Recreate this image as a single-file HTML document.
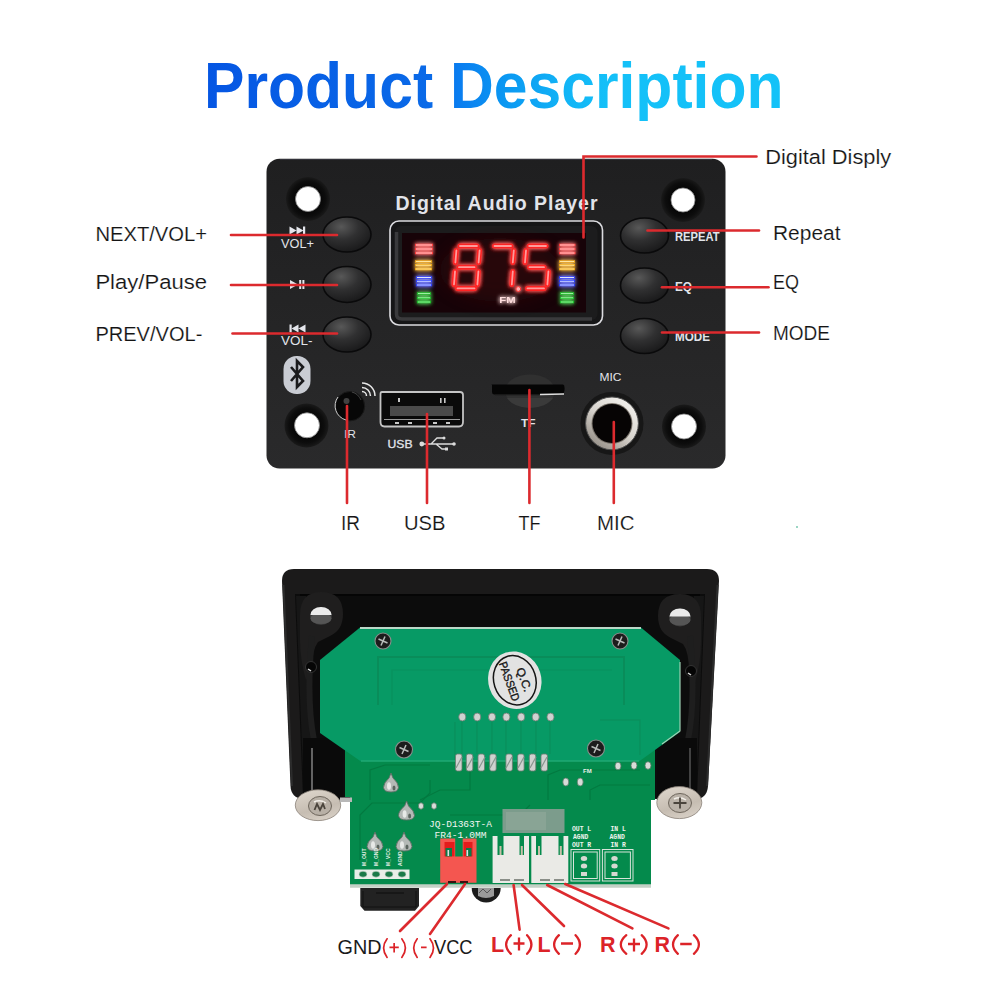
<!DOCTYPE html>
<html><head><meta charset="utf-8">
<style>
html,body{margin:0;padding:0;background:#fff;width:1000px;height:1000px;overflow:hidden}
svg{display:block}
svg{font-family:"Liberation Sans",sans-serif}
</style></head>
<body>
<svg width="1000" height="1000" viewBox="0 0 1000 1000">
<defs>
  <linearGradient id="tg" x1="208" y1="0" x2="780" y2="0" gradientUnits="userSpaceOnUse">
    <stop offset="0" stop-color="#0556e3"/>
    <stop offset="0.388" stop-color="#0a6ae8"/>
    <stop offset="0.44" stop-color="#0a7ef0"/>
    <stop offset="0.52" stop-color="#0b98f2"/>
    <stop offset="0.624" stop-color="#12b4f6"/>
    <stop offset="0.70" stop-color="#14c0f8"/>
    <stop offset="1" stop-color="#14c2f8"/>
  </linearGradient>
  <radialGradient id="btn" cx="0.38" cy="0.28" r="0.8">
    <stop offset="0" stop-color="#585858"/>
    <stop offset="0.45" stop-color="#303031"/>
    <stop offset="1" stop-color="#161617"/>
  </radialGradient>
  <filter id="glow" x="-30%" y="-30%" width="160%" height="160%">
    <feGaussianBlur in="SourceGraphic" stdDeviation="2.2" result="b"/>
    <feMerge><feMergeNode in="b"/><feMergeNode in="b"/><feMergeNode in="SourceGraphic"/></feMerge>
  </filter>
  <filter id="soft" x="-50%" y="-50%" width="200%" height="200%"><feGaussianBlur stdDeviation="8"/></filter>
  <linearGradient id="panelg" x1="0" y1="0" x2="0" y2="1">
    <stop offset="0" stop-color="#1f1f20"/><stop offset="1" stop-color="#2a2a2b"/>
  </linearGradient>
  <radialGradient id="ring" cx="0.5" cy="0.5" r="0.5">
    <stop offset="0.5" stop-color="#050505"/><stop offset="0.8" stop-color="#0d0d0d"/><stop offset="1" stop-color="#1a1a1a"/>
  </radialGradient>
  <linearGradient id="silver" x1="0.8" y1="0.1" x2="0.2" y2="0.9">
    <stop offset="0" stop-color="#f0eeea"/><stop offset="0.5" stop-color="#d8d4ce"/><stop offset="1" stop-color="#9a948c"/>
  </linearGradient>
  <linearGradient id="wash" x1="0.3" y1="0" x2="0.7" y2="1">
    <stop offset="0" stop-color="#dcd4ca"/><stop offset="0.6" stop-color="#c6bdb2"/><stop offset="1" stop-color="#d8d0c6"/>
  </linearGradient>
</defs>

<!-- title -->
<text id="title" x="204" y="108" font-size="64" font-weight="bold" fill="url(#tg)" textLength="579.5" lengthAdjust="spacingAndGlyphs">Product Description</text>

<!-- ===== FRONT PANEL ===== -->
<rect x="266.5" y="158.8" width="459" height="309.7" rx="13" fill="url(#panelg)"/>
<path d="M280 159.5 H712" stroke="#3a3a44" stroke-width="1" opacity="0.7"/>

<!-- holes -->
<g>
  <circle cx="308" cy="199" r="22" fill="url(#ring)"/><circle cx="308" cy="199" r="12.5" fill="#fff" stroke="#888" stroke-width="0.8"/>
  <circle cx="683" cy="200" r="22" fill="url(#ring)"/><circle cx="683" cy="200" r="12" fill="#fff" stroke="#888" stroke-width="0.8"/>
  <circle cx="306.5" cy="425.5" r="22" fill="url(#ring)"/><circle cx="307" cy="425.3" r="12.5" fill="#fff" stroke="#888" stroke-width="0.8"/>
  <circle cx="684" cy="426.5" r="22" fill="url(#ring)"/><circle cx="684" cy="426.5" r="12.5" fill="#fff" stroke="#888" stroke-width="0.8"/>
</g>

<!-- buttons -->
<g stroke="#0a0a0b" stroke-width="1.6">
  <ellipse cx="347" cy="234.5" rx="24" ry="17.5" fill="url(#btn)"/>
  <ellipse cx="347" cy="284.5" rx="24" ry="18" fill="url(#btn)"/>
  <ellipse cx="347" cy="334.5" rx="24" ry="17.5" fill="url(#btn)"/>
  <ellipse cx="644.5" cy="235.5" rx="24" ry="17.5" fill="url(#btn)"/>
  <ellipse cx="644.5" cy="285.5" rx="24" ry="17.5" fill="url(#btn)"/>
  <ellipse cx="644.5" cy="336" rx="24" ry="17.5" fill="url(#btn)"/>
</g>

<!-- button icons -->
<g fill="#e4e6ec">
  <path d="M289.5 226.5 L296.5 230.5 L289.5 234.5 Z M296.5 226.5 L303.5 230.5 L296.5 234.5 Z"/><rect x="303" y="226.5" width="2.2" height="8"/>
  <path d="M290 280 L298 284.5 L290 289 Z"/><rect x="299.2" y="280" width="2" height="9"/><rect x="302.4" y="280" width="2" height="9"/>
  <path d="M305.5 324.5 L298.5 328.5 L305.5 332.5 Z M298.5 324.5 L291.5 328.5 L298.5 332.5 Z"/><rect x="289.5" y="324.5" width="2.2" height="8"/>
</g>

<!-- panel text -->
<text x="395.5" y="209.5" font-size="19.5" font-weight="bold" fill="#e2e4ea" textLength="202" lengthAdjust="spacing">Digital Audio Player</text>
<g fill="#e2e4ea" font-weight="bold" font-size="12">
  <text x="675" y="241" textLength="44.5" lengthAdjust="spacingAndGlyphs">REPEAT</text>
  <text x="675" y="291" textLength="17" lengthAdjust="spacingAndGlyphs">EQ</text>
  <text x="675" y="341" textLength="35" lengthAdjust="spacingAndGlyphs">MODE</text>
</g>
<g fill="#e2e4ea" font-size="12.5">
  <text x="281" y="247.5" textLength="33" lengthAdjust="spacingAndGlyphs">VOL+</text>
  <text x="281" y="345" textLength="31.5" lengthAdjust="spacingAndGlyphs">VOL-</text>
  <text x="344" y="437.5" textLength="12" lengthAdjust="spacingAndGlyphs" font-size="11.5">IR</text>
  <text x="387.5" y="447.5" textLength="25" lengthAdjust="spacingAndGlyphs" font-size="11.5" stroke="#e2e4ea" stroke-width="0.3">USB</text>
  <text x="521" y="426.5" textLength="14.5" lengthAdjust="spacingAndGlyphs" font-size="11.5" font-weight="bold">TF</text>
  <text x="599.5" y="381" textLength="22" lengthAdjust="spacingAndGlyphs" font-size="11.5">MIC</text>
</g>

<!-- bluetooth badge -->
<rect x="283.5" y="356" width="27" height="38" rx="13" fill="#c9ccd3"/>
<path d="M291 367 L303 381 L297 387 V361 L303 367 L291 381" fill="none" stroke="#1a1a1c" stroke-width="2.6" stroke-linejoin="miter"/>

<!-- IR -->
<circle cx="350" cy="406.2" r="14.7" fill="#070707" stroke="#1a1a1a" stroke-width="1"/>
<path d="M338 397 A14.7 14.7 0 0 0 346 420" stroke="#cfcfcf" stroke-width="1" fill="none"/>
<path d="M352 392 A14 14 0 0 1 361 400" stroke="#444" stroke-width="1" fill="none"/>
<circle cx="346.5" cy="401" r="3" fill="#5a5a5a" opacity="0.7"/>
<path d="M362 391.5 A4.5 4.5 0 0 1 366.5 396 M362 387.5 A8.5 8.5 0 0 1 370.5 396 M362 383 A13 13 0 0 1 375 396" fill="none" stroke="#e8e8e8" stroke-width="1.5"/>

<!-- USB port -->
<path d="M382 392 H460 Q463 392 463 395 V422 Q463 426.5 459 426.5 H384.5 Q380.5 426.5 380.5 422 V394 Q380.5 392 382 392 Z" fill="#0a0a0a" stroke="#c4c4c4" stroke-width="1.8"/>
<path d="M384 419.5 H460" stroke="#9a9a9a" stroke-width="1.2"/>
<rect x="390" y="406" width="63" height="10" fill="#4a4a4a"/>
<g fill="#c8c8c8"><rect x="398" y="398" width="2" height="4"/><rect x="440" y="398" width="1.6" height="5"/><rect x="444" y="398" width="1.6" height="5"/>
<rect x="395" y="422" width="4" height="2"/><rect x="408" y="422" width="4" height="2"/><rect x="433" y="422" width="4" height="2"/><rect x="446" y="422" width="4" height="2"/></g>
<g stroke="#dcdcdc" stroke-width="1.3" fill="none">
  <path d="M422 444 H454 M431 444 L437 438 H443 M436 444 L442 449 H446"/>
</g>
<circle cx="421.8" cy="444" r="2.4" fill="#dcdcdc"/>
<circle cx="454" cy="444" r="1.8" fill="#dcdcdc"/>
<circle cx="444" cy="438" r="1.5" fill="#dcdcdc"/>
<rect x="445" y="447.5" width="3" height="3" fill="#dcdcdc"/>

<!-- TF slot -->
<ellipse cx="530" cy="391" rx="25" ry="16.5" fill="#303030"/>
<path d="M507 398 A25 16.5 0 0 0 553 398 Z" fill="#3a3a3a"/>
<path d="M492 385 Q491 384.5 492 384.5 H563 Q565 385 564.5 390 L563.5 394.5 H494 Q492 394 492 392 Z" fill="#050505"/>
<path d="M540 394.5 L564 394" stroke="#e0e0e0" stroke-width="1.6"/>
<path d="M495 394.8 H539" stroke="#1a1a1a" stroke-width="1"/>

<!-- MIC jack -->
<circle cx="612" cy="423.4" r="31.5" fill="#171717"/>
<circle cx="612" cy="423.4" r="26.4" fill="url(#silver)"/>
<circle cx="612" cy="423.4" r="26.4" fill="none" stroke="#505050" stroke-width="1"/>
<circle cx="612" cy="423.4" r="20.5" fill="#7a746c"/>
<circle cx="612" cy="423.4" r="19.5" fill="#060404"/>

<!-- display -->
<rect x="390" y="221" width="212.5" height="104" rx="9" fill="#161617" stroke="#dcdce0" stroke-width="1.6"/>
<rect x="395" y="226" width="202.5" height="94" rx="6" fill="#1c1c1d"/>
<path d="M396.5 232 V314 Q396.5 319 402 319 H592" stroke="#3a3a3c" stroke-width="3.5" fill="none"/>
<rect x="402" y="233" width="184" height="79.5" fill="#170308"/>
<ellipse cx="500" cy="270" rx="60" ry="32" fill="#3a0a0a" opacity="0.45" filter="url(#soft)"/>
<g filter="url(#glow)">
  <g stroke="#ff2222" stroke-width="5" stroke-linecap="round" fill="none">
    <path d="M460 246 H477 M456.4 250.5 L455.4 262.5 M479.6 250.5 L478.6 262.5 M459 267.2 H474.5 M455 271.5 L454 284.5 M478.4 271.5 L477.4 284.5 M457.5 288.4 H474.5"/>
    <path d="M494.5 246 H511 M513.8 250.5 L512.8 262.5 M512.8 271.5 L511.8 284.5"/>
    <path d="M529.2 246 H546 M526 250.5 L525 262.5 M529.5 267.2 H544 M548.4 271.5 L547.4 284.5 M527.5 288.4 H544"/>
  </g>
  <g stroke="#ff9a9a" stroke-width="1.8" stroke-linecap="round" fill="none">
    <path d="M460 246 H477 M456.4 250.5 L455.4 262.5 M479.6 250.5 L478.6 262.5 M459 267.2 H474.5 M455 271.5 L454 284.5 M478.4 271.5 L477.4 284.5 M457.5 288.4 H474.5"/>
    <path d="M494.5 246 H511 M513.8 250.5 L512.8 262.5 M512.8 271.5 L511.8 284.5"/>
    <path d="M529.2 246 H546 M526 250.5 L525 262.5 M529.5 267.2 H544 M548.4 271.5 L547.4 284.5 M527.5 288.4 H544"/>
  </g>
  <circle cx="518.3" cy="289" r="2.4" fill="#ffb0b0" stroke="#ff3030" stroke-width="1"/>
  <text x="499.3" y="302.8" font-size="9.5" font-weight="bold" fill="#ffdede" textLength="16.3" lengthAdjust="spacingAndGlyphs">FM</text>
  <g stroke-width="2.3">
    <path d="M415 245 H433 M415 249 H433 M415 253 H433" stroke="#ff3a3a"/>
    <path d="M415 261.5 H432 M415 265.2 H432 M415 269 H432" stroke="#f0a818"/>
    <path d="M416 277.5 H432 M416 281.2 H432 M416 285 H432" stroke="#2c3cff"/>
    <path d="M417 293.5 H431 M417 297.8 H431 M417 302 H431" stroke="#1cc02a"/>
    <path d="M559 245 H575.5 M559 249 H575.5 M559 253 H575.5" stroke="#ff3a3a"/>
    <path d="M559 261.5 H575 M559 265.2 H575 M559 269 H575" stroke="#f0a818"/>
    <path d="M559 277.5 H575 M559 281.2 H575 M559 285 H575" stroke="#2c3cff"/>
    <path d="M560 293.5 H574 M560 297.8 H574 M560 302 H574" stroke="#1cc02a"/>
  </g>
  <g stroke-width="1.1">
    <path d="M416 245 H432 M416 249 H432 M416 253 H432 M560 245 H574.5 M560 249 H574.5 M560 253 H574.5" stroke="#ffe6e6"/>
    <path d="M416 261.5 H431 M416 265.2 H431 M416 269 H431 M560 261.5 H574 M560 265.2 H574 M560 269 H574" stroke="#ffe6a0"/>
    <path d="M417 277.5 H431 M417 281.2 H431 M417 285 H431 M560 277.5 H574 M560 281.2 H574 M560 285 H574" stroke="#e0e6ff"/>
    <path d="M418 293.5 H430 M418 297.8 H430 M418 302 H430 M561 293.5 H573 M561 297.8 H573 M561 302 H573" stroke="#9af0a0"/>
  </g>
</g>

<!-- ===== labels ===== -->
<g font-size="19.5" fill="#141414" stroke="#ffffff" stroke-width="0.15">
  <text x="95.4" y="241" textLength="111.7" lengthAdjust="spacingAndGlyphs">NEXT/VOL+</text>
  <text x="95.4" y="288.5" textLength="111.7" lengthAdjust="spacingAndGlyphs">Play/Pause</text>
  <text x="95.4" y="341" textLength="107" lengthAdjust="spacingAndGlyphs">PREV/VOL-</text>
  <text x="765.2" y="163.5" textLength="126" lengthAdjust="spacingAndGlyphs">Digital Disply</text>
  <text x="773" y="240" textLength="67.5" lengthAdjust="spacingAndGlyphs">Repeat</text>
  <text x="773" y="289" textLength="26" lengthAdjust="spacingAndGlyphs">EQ</text>
  <text x="773" y="339.5" textLength="57" lengthAdjust="spacingAndGlyphs">MODE</text>
  <text x="341" y="530" textLength="19" lengthAdjust="spacingAndGlyphs">IR</text>
  <text x="404" y="530" textLength="41.5" lengthAdjust="spacingAndGlyphs">USB</text>
  <text x="518.5" y="530" textLength="22" lengthAdjust="spacingAndGlyphs">TF</text>
  <text x="597" y="530" textLength="37.5" lengthAdjust="spacingAndGlyphs">MIC</text>
</g>

<!-- red leader lines front -->
<g stroke="#dc2a2e" stroke-width="2.6" fill="none" stroke-linecap="round">
  <line x1="231" y1="235" x2="337" y2="235"/>
  <line x1="231" y1="285" x2="337" y2="285"/>
  <line x1="232.5" y1="333.5" x2="337" y2="333.5"/>
  <path d="M756.5 156.5 H583.5 V237.5"/>
  <line x1="647.5" y1="230.5" x2="759" y2="230.5"/>
  <line x1="662" y1="287.2" x2="768.5" y2="287.2"/>
  <line x1="662" y1="332.5" x2="759" y2="332.5"/>
  <line x1="347" y1="406" x2="347" y2="503"/>
  <line x1="427" y1="414" x2="427" y2="503"/>
  <line x1="529.4" y1="390" x2="529.4" y2="503"/>
  <line x1="613.8" y1="422" x2="613.8" y2="503"/>
</g>

<circle cx="797" cy="527" r="1" fill="#7ac8b0"/>
<!-- ===== BACK BOARD ===== -->
<!-- frame -->
<path d="M294 569 H707 Q719 569 719 581 L708 786 Q707 799 695 799 H303 Q291 798 290.5 786 L282 581 Q282 569 294 569 Z" fill="#1b1a1a"/>
<path d="M283.5 585 L292 786" stroke="#2c2c2c" stroke-width="2" fill="none"/>
<path d="M717.5 585 L707 786" stroke="#2c2c2c" stroke-width="2" fill="none"/>
<path d="M295 594 H705 L697 798 H303 Z" fill="#0c0c0c"/>
<path d="M296 596 L304 796 H314 L306 596 Z" fill="#161616"/>
<path d="M704 596 L696 796 H686 L694 596 Z" fill="#161616"/>
<path d="M300 595 H700" stroke="#050505" stroke-width="2"/>
<!-- corner bosses -->
<path d="M300 615 Q300 592 321 592 Q343 592 343 614 Q343 630 330 636 L318 642 Q312 650 312 670 L306 680 Q300 660 300 640 Z" fill="#1f1e1e"/>
<ellipse cx="321" cy="616" rx="11" ry="9" fill="#3a3a3a"/>
<ellipse cx="321" cy="618.5" rx="10.5" ry="5.5" fill="#555"/>
<path d="M310.5 615 A10.5 8 0 0 1 331.5 615 Z" fill="#ebebeb"/>
<path d="M701 617 Q701 594 680 594 Q658 594 658 616 Q658 632 671 638 L683 644 Q689 652 689 672 L695 682 Q701 662 701 642 Z" fill="#1f1e1e"/>
<ellipse cx="680" cy="617.5" rx="11" ry="9" fill="#3a3a3a"/>
<ellipse cx="680" cy="620" rx="10.5" ry="5.5" fill="#555"/>
<path d="M669.5 616.5 A10.5 8 0 0 1 690.5 616.5 Z" fill="#ebebeb"/>
<path d="M312 636 Q306 700 314 740 M690 636 Q696 700 688 740" stroke="#1e1e1e" stroke-width="6" fill="none"/>
<circle cx="311" cy="667" r="5.5" fill="#050505" stroke="#333" stroke-width="1"/>
<path d="M308 669 l3 2" stroke="#ddd" stroke-width="1.5"/>
<circle cx="691" cy="671" r="5.5" fill="#050505" stroke="#333" stroke-width="1"/>
<path d="M688 673 l3 2" stroke="#ddd" stroke-width="1.5"/>
<!-- standoffs -->
<rect x="303" y="738" width="40" height="62" fill="#0a0a0a"/>
<path d="M312 748 V798" stroke="#8a8a8a" stroke-width="1.4"/>
<rect x="657" y="738" width="40" height="62" fill="#0a0a0a"/>
<path d="M690 748 V798" stroke="#5a5a5a" stroke-width="1.4"/>

<!-- main board -->
<path d="M345 735 H655 V800 H651 V887 H350 V797 H345 Z" fill="#048a4c"/>
<path d="M350 886 H651" stroke="#c4d0c6" stroke-width="3.4"/>
<!-- traces on main board -->
<g stroke="#03783f" stroke-width="1.2" fill="none" opacity="0.9">
  <path d="M370 800 V770 L385 765 H430 M360 860 V815 L372 803 H420 L430 793 V780"/>
  <path d="M548 800 V775 L560 770 H640 M590 800 V790 L600 785 H650"/>
  <path d="M420 800 L440 790 H470 V770 M450 815 H520 L530 805"/>
</g>

<!-- upper (LCD) board -->
<path d="M360 627.5 H641 L680 660 V732 L639 761.5 H361 L320 733 V660 Z" fill="#079a65"/>
<path d="M360 628 H641" stroke="#bcd8c8" stroke-width="2"/>
<path d="M680 662 V731 L662 744" stroke="#9fd0b4" stroke-width="1.2" fill="none"/>
<path d="M361 761 H639" stroke="#2db07a" stroke-width="1.2"/>
<!-- antenna outline -->
<path d="M378 705 V657 H624 V705" stroke="#0a8a58" stroke-width="2" fill="none" opacity="0.8"/>
<path d="M392 705 V670 H612" stroke="#0a8a58" stroke-width="1.2" fill="none" opacity="0.5"/>
<!-- traces upper board -->
<g stroke="#0b8a58" stroke-width="1.1" fill="none" opacity="0.8">
  <path d="M462 717 V754 M477 717 V754 M492 717 V754 M506 717 V754 M521 717 V754 M536 717 V754 M550 717 V754"/>
  <path d="M455 722 V760 M600 720 H640 V755"/>
</g>

<!-- screws upper board -->
<g fill="#1c1c1c" stroke="#8a8f8c" stroke-width="1.1">
  <circle cx="383" cy="641" r="8"/>
  <circle cx="620" cy="641" r="8"/>
  <circle cx="404" cy="749.5" r="8.5"/>
  <circle cx="596" cy="748.5" r="8.5"/>
</g>
<g stroke="#b8bcba" stroke-width="1.5">
  <path d="M378.5 639 L387.5 643 M381 645.5 L385 636.5"/>
  <path d="M615.5 639 L624.5 643 M618 645.5 L622 636.5"/>
  <path d="M399.5 747.5 L408.5 751.5 M402 754 L406 745"/>
  <path d="M591.5 746.5 L600.5 750.5 M594 753 L598 744"/>
</g>

<!-- QC sticker -->
<g transform="rotate(-18 514.8 680.2)">
  <ellipse cx="514.8" cy="680.2" rx="26.5" ry="29" fill="#e2e2e2"/>
  <ellipse cx="514.8" cy="680.2" rx="21" ry="25" fill="none" stroke="#151515" stroke-width="1.5"/>
</g>
<g font-size="11.5" fill="#151515" text-anchor="middle" dominant-baseline="central" stroke="#151515" stroke-width="0.35">
  <text transform="translate(509.4 681.4) rotate(70)" textLength="41" lengthAdjust="spacingAndGlyphs">PASSED</text>
  <text transform="translate(524.1 679.6) rotate(70)" textLength="25" lengthAdjust="spacingAndGlyphs">Q.C.</text>
</g>

<!-- pins -->
<g fill="#cfd2d0" stroke="#6a7a70" stroke-width="0.8">
  <ellipse cx="462.3" cy="717" rx="3.6" ry="4"/><ellipse cx="477.2" cy="717" rx="3.6" ry="4"/><ellipse cx="492" cy="717" rx="3.6" ry="4"/><ellipse cx="506.4" cy="717" rx="3.6" ry="4"/><ellipse cx="521.2" cy="717" rx="3.6" ry="4"/><ellipse cx="535.7" cy="717" rx="3.6" ry="4"/><ellipse cx="550.5" cy="717" rx="3.6" ry="4"/>
  <rect x="455.5" y="754" width="6.5" height="17" rx="2"/><rect x="466.3" y="754" width="6.5" height="17" rx="2"/><rect x="478" y="754" width="6.5" height="17" rx="2"/><rect x="489.7" y="754" width="6.5" height="17" rx="2"/>
  <rect x="505.9" y="754" width="6.5" height="17" rx="2"/><rect x="517.6" y="754" width="6.5" height="17" rx="2"/><rect x="529.3" y="754" width="6.5" height="17" rx="2"/><rect x="541" y="754" width="6.5" height="17" rx="2"/>
</g>
<g stroke="#8a9690" stroke-width="1.2">
  <path d="M456 768 L462 757 M467 768 L473 757 M479 768 L485 757 M490 768 L496 757 M506 768 L512 757 M518 768 L524 757 M530 768 L536 757 M541 768 L547 757"/>
</g>
<!-- small pins right -->
<g fill="#d8dcd8" stroke="#5a7a68" stroke-width="0.8">
  <ellipse cx="565.8" cy="782" rx="3" ry="4"/><ellipse cx="580.2" cy="782" rx="3" ry="4"/>
  <ellipse cx="618" cy="766" rx="3" ry="3.8"/><ellipse cx="634" cy="765.5" rx="3" ry="3.8"/><ellipse cx="648" cy="765.5" rx="3" ry="3.8"/>
  <ellipse cx="421" cy="806" rx="2.6" ry="3.2"/><ellipse cx="434" cy="806" rx="2.6" ry="3.2"/>
</g>
<text x="583" y="773" font-size="6" font-weight="bold" fill="#e8f0ea">FM</text>

<!-- solder cones -->
<g fill="#b4b9b6" stroke="#5c6e64" stroke-width="0.9">
  <path d="M391 773 L393 778 Q398.5 783 398.5 787.5 Q398 792 391 792 Q384 792 383.5 787.5 Q383.5 783 389 778 Z"/>
  <path d="M406.6 801 L408.6 806 Q414.5 811 414.5 815.5 Q414 820 406.6 820 Q399 820 398.5 815.5 Q398.5 811 404.6 806 Z"/>
  <path d="M375 832 L377 837 Q383 842 383 846.5 Q382.5 851 375 851 Q367.5 851 367 846.5 Q367 842 373 837 Z"/>
  <path d="M404 832 L406 837 Q412 842 412 846.5 Q411.5 851 404 851 Q396.5 851 396 846.5 Q396 842 402 837 Z"/>
</g>
<g fill="#f0f2f0" opacity="0.85">
  <ellipse cx="389" cy="786" rx="2" ry="3.8"/><ellipse cx="404.6" cy="814" rx="2" ry="3.8"/><ellipse cx="373" cy="845" rx="2" ry="3.8"/><ellipse cx="402" cy="845" rx="2" ry="3.8"/>
</g>
<g fill="#5a645e">
  <ellipse cx="394" cy="788" rx="1.5" ry="2.5"/><ellipse cx="409.6" cy="816" rx="1.5" ry="2.5"/><ellipse cx="378" cy="847" rx="1.5" ry="2.5"/><ellipse cx="407" cy="847" rx="1.5" ry="2.5"/>
</g>

<!-- pin header strip -->
<rect x="354.5" y="869.5" width="55" height="9.5" fill="#e8eee8"/>
<g fill="#1a7a48" stroke="#d0d6d0" stroke-width="0.6">
  <ellipse cx="363" cy="874.2" rx="4" ry="3"/><ellipse cx="376" cy="874.2" rx="4" ry="3"/><ellipse cx="389" cy="874.2" rx="4" ry="3"/><ellipse cx="402" cy="874.2" rx="4" ry="3"/>
</g>
<g font-size="5" fill="#e6efe8" font-weight="bold">
  <text transform="translate(366 866) rotate(-90)">M_OUT</text>
  <text transform="translate(378 866) rotate(-90)">M_GND</text>
  <text transform="translate(390 866) rotate(-90)">M_VCC</text>
  <text transform="translate(402 866) rotate(-90)">AGND</text>
</g>
<!-- board text -->
<g style="font-family:'Liberation Mono',monospace" font-size="8.6" fill="#f2f6f2">
  <text x="429" y="826.5" textLength="63" lengthAdjust="spacingAndGlyphs">JQ-D1363T-A</text>
  <text x="434.5" y="838.3" textLength="52" lengthAdjust="spacingAndGlyphs">FR4-1.0MM</text>
</g>
<!-- silver chip -->
<rect x="502.5" y="809" width="62" height="24" fill="#7c9c8c"/>
<rect x="506" y="812" width="40" height="18" fill="#8fa898" opacity="0.7"/>
<!-- red connector -->
<path d="M440.2 838.4 H455.2 V856.4 H462.7 V838.4 H476.5 V882.8 H440.2 Z" fill="#f45650"/>
<rect x="444.5" y="842" width="10" height="14.4" fill="#e41c1c"/>
<rect x="463.5" y="842" width="9" height="14.4" fill="#e41c1c"/>
<rect x="445.5" y="848" width="6.5" height="8.4" fill="#0b7a48"/>
<rect x="466" y="848" width="5.5" height="8.4" fill="#0b7a48"/>
<rect x="447.5" y="850" width="1.6" height="6" fill="#e0e0e0"/><rect x="466.5" y="850" width="1.6" height="6" fill="#e0e0e0"/>
<path d="M448 882 H456 M460 882 H468" stroke="#3a1010" stroke-width="1.8"/>
<!-- white connectors -->
<g>
  <path d="M492.6 836 H497.5 V855 H503.5 V836 H519.5 V855 H524 V836 H529 V883 H492.6 Z" fill="#eaeae6"/>
  <path d="M531.3 836 H536 V855 H541.5 V836 H558.5 V855 H563.5 V836 H568.3 V883 H531.3 Z" fill="#eaeae6"/>
  <rect x="499.5" y="846" width="2" height="9" fill="#c8c0a8"/><rect x="520.8" y="846" width="2" height="9" fill="#c8c0a8"/>
  <rect x="538" y="846" width="2" height="9" fill="#c8c0a8"/><rect x="559.8" y="846" width="2" height="9" fill="#c8c0a8"/>
  <path d="M500 880 H510 M514 880 H524 M540 880 H550 M554 880 H564" stroke="#8a8e88" stroke-width="2.2"/>
</g>

<!-- OUT / IN text -->
<g style="font-family:'Liberation Mono',monospace" font-size="6.4" fill="#eef4ee" font-weight="bold">
  <text x="572" y="830.5">OUT L</text><text x="573" y="839">AGND</text><text x="572" y="847">OUT R</text>
  <text x="610.5" y="830.5">IN L</text><text x="609.5" y="839">AGND</text><text x="610.5" y="847">IN R</text>
</g>
<!-- terminal boxes -->
<g fill="none" stroke="#d8e4da" stroke-width="1">
  <rect x="571" y="849.5" width="28.7" height="31.5"/><rect x="573.5" y="852" width="23.7" height="26.5"/>
  <rect x="602.4" y="849.5" width="30.6" height="31.5"/><rect x="605" y="852" width="25.4" height="26.5"/>
</g>
<g fill="#d6d8d2">
  <ellipse cx="584" cy="858.5" rx="3.2" ry="2.5"/><ellipse cx="584" cy="866" rx="3.2" ry="2.5"/><rect x="581" y="872" width="6" height="4"/>
  <ellipse cx="614.5" cy="858.5" rx="3.2" ry="2.5"/><ellipse cx="614.5" cy="866" rx="3.2" ry="2.5"/><rect x="611.5" y="872" width="6" height="4"/>
</g>

<!-- washers -->
<g>
  <ellipse cx="318" cy="805.2" rx="22.7" ry="15.4" fill="url(#wash)" stroke="#8a8278" stroke-width="0.8"/>
  <ellipse cx="320" cy="806" rx="11.5" ry="9.5" fill="#b8b0a6" stroke="#6e665c" stroke-width="1"/>
  <path d="M314 802 Q320 799 326 803" stroke="#f2eee8" stroke-width="1.5" fill="none"/>
  <path d="M314.5 810 L317 804 L320 810 L323 804 L325 809" stroke="#4a443c" stroke-width="1.8" fill="none"/>
  <rect x="340" y="797.5" width="12" height="4.5" fill="#b8b8b8"/>
  <ellipse cx="679.3" cy="802.6" rx="22.5" ry="16" fill="url(#wash)" stroke="#8a8278" stroke-width="0.8"/>
  <ellipse cx="680" cy="803" rx="11.5" ry="9.5" fill="#bab2a8" stroke="#6e665c" stroke-width="1"/>
  <path d="M674 799 Q680 796 686 800" stroke="#f2eee8" stroke-width="1.5" fill="none"/>
  <path d="M673.5 803 H686.5 M680 797.5 V808.5" stroke="#4a443c" stroke-width="1.8"/>
</g>

<!-- components under board -->
<path d="M360.3 888 H419 V906 L415 910.7 H364.5 L360.3 906 Z" fill="#222"/>
<path d="M363 891 V907 H416 V891" stroke="#111" stroke-width="1" fill="none"/>
<path d="M376 893 H404" stroke="#111" stroke-width="1.2"/>
<path d="M471.7 888 A14.5 14.5 0 0 0 500.7 888 Z" fill="#1c1c1c"/>
<path d="M478 888 V896 Q486 900 494 896 V888 Z" fill="#9a9a9a"/>
<path d="M479 893 L483 889 L487 893 L491 889" stroke="#555" stroke-width="1" fill="none"/>

<!-- bottom labels -->
<g font-size="19.5" fill="#1a1a1a">
  <text x="337.5" y="953.5" textLength="44" lengthAdjust="spacingAndGlyphs">GND</text>
  <text x="434" y="953.5" textLength="38.5" lengthAdjust="spacingAndGlyphs">VCC</text>
</g>
<g fill="none" stroke="#dc2328" stroke-linecap="round">
  <g stroke-width="1.7">
    <path d="M387.1 938.8 Q380.1 948.1 387.1 957.4 M401.8 938.8 Q409 948.1 401.8 957.4 M417.2 938.8 Q410.2 948.1 417.2 957.4 M430 938.8 Q437 948.1 430 957.4"/>
    <path d="M389.5 947.3 H398.8 M394.15 943 V952.5 M421 947.3 H426.6" stroke-linecap="butt"/>
  </g>
  <g stroke-width="2.3">
    <path d="M510.9 935.2 Q501.3 944.5 510.9 953.8 M527.1 935.2 Q535.7 944.5 527.1 953.8 M558.9 935.2 Q549.3 944.5 558.9 953.8 M575.6 935.2 Q584.2 944.5 575.6 953.8"/>
    <path d="M626.3 935.2 Q615.3 944.5 626.3 953.8 M641.7 935.2 Q651.5 944.5 641.7 953.8 M677.9 935.2 Q668.1 944.5 677.9 953.8 M693.9 935.2 Q703.9 944.5 693.9 953.8"/>
    <path d="M513.5 943.5 H524.5 M519 937.5 V950.5 M561 943.5 H573 M628 944 H640 M634 938.5 V951.5 M680.2 944 H691.7" stroke-linecap="butt"/>
  </g>
</g>
<g fill="#dc2328" font-size="21.5" font-weight="bold">
  <text x="491" y="952">L</text><text x="537.5" y="952">L</text>
  <text x="600" y="952.2">R</text><text x="654.5" y="952.2">R</text>
</g>
<g stroke="#dc2a2e" stroke-width="2.6" fill="none" stroke-linecap="round">
  <line x1="447" y1="884" x2="400" y2="931"/>
  <line x1="465" y1="884" x2="430" y2="934"/>
  <line x1="513.6" y1="885" x2="519.6" y2="929.6"/>
  <line x1="522" y1="885" x2="564" y2="926"/>
  <line x1="547.2" y1="885" x2="632.4" y2="928.4"/>
  <line x1="565.2" y1="884" x2="668.4" y2="928.4"/>
</g>
</svg>
</body></html>
